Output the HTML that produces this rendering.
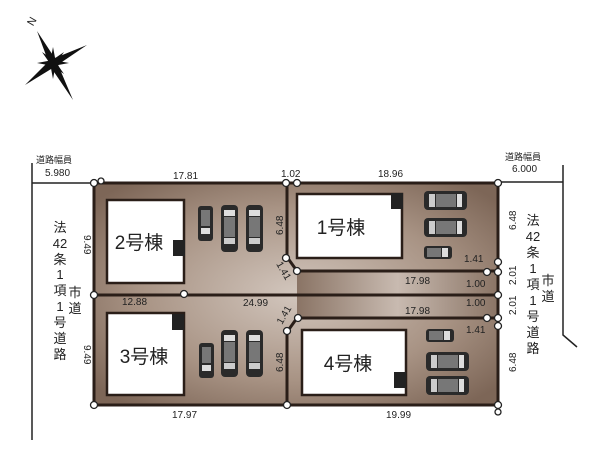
<!DOCTYPE html>
<html><head><meta charset="utf-8"><style>
html,body{margin:0;padding:0;background:#fff;width:600px;height:450px;overflow:hidden}
svg{display:block}
text{font-family:"Liberation Sans","Noto Sans CJK JP",sans-serif;fill:#222}
</style></head><body>
<svg width="600" height="450" viewBox="0 0 600 450" xmlns="http://www.w3.org/2000/svg">
<defs>
<radialGradient id="g" cx="50%" cy="50%" r="65%">
<stop offset="0" stop-color="#d2c6bd"/><stop offset="0.6" stop-color="#a89384"/><stop offset="1" stop-color="#7d6657"/>
</radialGradient>
<linearGradient id="s" x1="0" x2="1"><stop offset="0" stop-color="#8a7465"/><stop offset="0.5" stop-color="#c8bab0"/><stop offset="1" stop-color="#8a7465"/></linearGradient>
<g id="cv"><rect x="0" y="0" width="17" height="47" rx="4" fill="#2a2a2a"/><rect x="3" y="5" width="11" height="6" fill="#ddd"/><rect x="3" y="12" width="11" height="20" fill="#777"/><rect x="3" y="33" width="11" height="6" fill="#ccc"/></g>
<g id="cvs"><rect x="0" y="0" width="15" height="35" rx="3" fill="#2a2a2a"/><rect x="3" y="4" width="9" height="16" fill="#777"/><rect x="3" y="22" width="9" height="6" fill="#ddd"/></g>
<g id="ch"><rect x="0" y="0" width="43" height="19" rx="4" fill="#2a2a2a"/><rect x="5" y="3" width="6" height="13" fill="#ccc"/><rect x="12" y="3" width="20" height="13" fill="#777"/><rect x="33" y="3" width="5" height="13" fill="#ddd"/></g>
<g id="chs"><rect x="0" y="0" width="28" height="13" rx="3" fill="#2a2a2a"/><rect x="3" y="2" width="14" height="9" fill="#777"/><rect x="18" y="2" width="6" height="9" fill="#ddd"/></g>
</defs>
<!-- compass -->
<g transform="translate(53,63)" fill="#111">
<polygon points="-16,-32 3,-3 -3,3"/><polygon points="20,37 -3,3 3,-3"/>
<polygon points="34,-18 3,3 -3,-3"/><polygon points="-28,22 -3,-3 3,3"/>
<polygon points="0,-16 3,0 0,16 -3,0"/><polygon points="-16,0 0,-3 16,0 0,3"/>
<polygon points="-11,-11 2,-2 11,11 -2,2"/><polygon points="11,-11 2,2 -11,11 -2,-2"/>
</g>
<text x="28" y="26" font-size="11" transform="rotate(-60 31 22)">N</text>
<!-- lots fill -->
<polygon points="94,183 498,183 498,405 94,405" fill="url(#g)"/>
<rect x="297" y="272" width="201" height="46" fill="url(#s)"/>
<!-- lines -->
<g stroke="#2a1e18" stroke-width="3" fill="none">
<polygon points="94,183 498,183 498,405 94,405"/>
<line x1="94" y1="295" x2="498" y2="295"/>
<polyline points="287,183 287,257 297,271 498,271"/>
<polyline points="287,405 287,332 297,318 498,318"/>
</g>
<!-- road lines -->
<g stroke="#222" stroke-width="1.5" fill="none">
<line x1="32" y1="163" x2="32" y2="440"/>
<line x1="32" y1="183" x2="94" y2="183"/>
<polyline points="563,165 563,335 577,347"/>
<line x1="498" y1="182" x2="563" y2="182"/>
</g>
<!-- houses -->
<g fill="#fff" stroke="#2a1e18" stroke-width="2.5">
<rect x="107" y="200" width="77" height="83"/>
<rect x="297" y="194" width="105" height="64"/>
<rect x="107" y="313" width="77" height="82"/>
<rect x="302" y="330" width="104" height="65"/>
</g>
<g fill="#222"><rect x="173" y="240" width="12" height="16"/><rect x="391" y="193" width="12" height="16"/><rect x="172" y="314" width="12" height="16"/><rect x="394" y="372" width="12" height="16"/></g>
<g font-size="19" text-anchor="middle">
<text x="139" y="249">2号棟</text><text x="341" y="234">1号棟</text>
<text x="144" y="363">3号棟</text><text x="348" y="370">4号棟</text>
</g>
<!-- cars -->
<use href="#cvs" x="198" y="206"/><use href="#cv" x="221" y="205"/><use href="#cv" x="246" y="205"/>
<use href="#cvs" x="199" y="343"/><use href="#cv" x="221" y="330"/><use href="#cv" x="246" y="330"/>
<use href="#ch" x="424" y="191"/><use href="#ch" x="424" y="218"/><use href="#chs" x="424" y="246"/>
<use href="#chs" x="426" y="329"/><use href="#ch" x="426" y="352"/><use href="#ch" x="426" y="376"/>
<!-- points -->
<g fill="#fff" stroke="#222" stroke-width="1.3">
<circle cx="94" cy="183" r="3.5"/><circle cx="101" cy="181" r="3"/><circle cx="286" cy="183" r="3.5"/><circle cx="297" cy="183" r="3.5"/><circle cx="498" cy="183" r="3.5"/>
<circle cx="94" cy="295" r="3.5"/><circle cx="184" cy="294" r="3.5"/><circle cx="286" cy="258" r="3.5"/><circle cx="297" cy="271" r="3.5"/>
<circle cx="487" cy="272" r="3.5"/><circle cx="498" cy="262" r="3.5"/><circle cx="498" cy="272" r="3.5"/><circle cx="498" cy="295" r="3.5"/>
<circle cx="487" cy="318" r="3.5"/><circle cx="498" cy="318" r="3.5"/><circle cx="498" cy="326" r="3.5"/>
<circle cx="298" cy="318" r="3.5"/><circle cx="287" cy="331" r="3.5"/>
<circle cx="94" cy="405" r="3.5"/><circle cx="287" cy="405" r="3.5"/><circle cx="498" cy="405" r="3.5"/><circle cx="498" cy="412" r="3"/>
</g>
<!-- dimension labels -->
<g font-size="10">
<text x="36" y="163" font-size="9">道路幅員</text><text x="45" y="176">5.980</text>
<text x="505" y="160" font-size="9">道路幅員</text><text x="512" y="172">6.000</text>
<text x="173" y="179">17.81</text><text x="281" y="177">1.02</text><text x="378" y="177">18.96</text>
<text x="122" y="305">12.88</text><text x="243" y="306">24.99</text>
<text x="405" y="284">17.98</text><text x="405" y="314">17.98</text>
<text x="466" y="287">1.00</text><text x="466" y="306">1.00</text>
<text x="464" y="262">1.41</text><text x="466" y="333">1.41</text>
<text x="172" y="418">17.97</text><text x="386" y="418">19.99</text>
<text transform="translate(84,235) rotate(90)">9.49</text>
<text transform="translate(84,345) rotate(90)">9.49</text>
<text transform="translate(283,235) rotate(-90)">6.48</text>
<text transform="translate(283,372) rotate(-90)">6.48</text>
<text transform="translate(516,230) rotate(-90)">6.48</text>
<text transform="translate(516,372) rotate(-90)">6.48</text>
<text transform="translate(516,285) rotate(-90)">2.01</text>
<text transform="translate(516,315) rotate(-90)">2.01</text>
<text transform="translate(276,264) rotate(60)">1.41</text>
<text transform="translate(282,325) rotate(-60)">1.41</text>
</g>
<g font-size="13" text-anchor="middle">
<text x="60" y="232">法</text><text x="60" y="248">42</text><text x="60" y="264">条</text><text x="60" y="279">1</text><text x="60" y="295">項</text><text x="60" y="311">1</text><text x="60" y="327">号</text><text x="60" y="343">道</text><text x="60" y="359">路</text>
<text x="75" y="297">市</text><text x="75" y="313">道</text>
<text x="533" y="225">法</text><text x="533" y="241">42</text><text x="533" y="257">条</text><text x="533" y="273">1</text><text x="533" y="289">項</text><text x="533" y="305">1</text><text x="533" y="321">号</text><text x="533" y="337">道</text><text x="533" y="353">路</text>
<text x="548" y="285">市</text><text x="548" y="301">道</text>
</g>
</svg>
</body></html>
